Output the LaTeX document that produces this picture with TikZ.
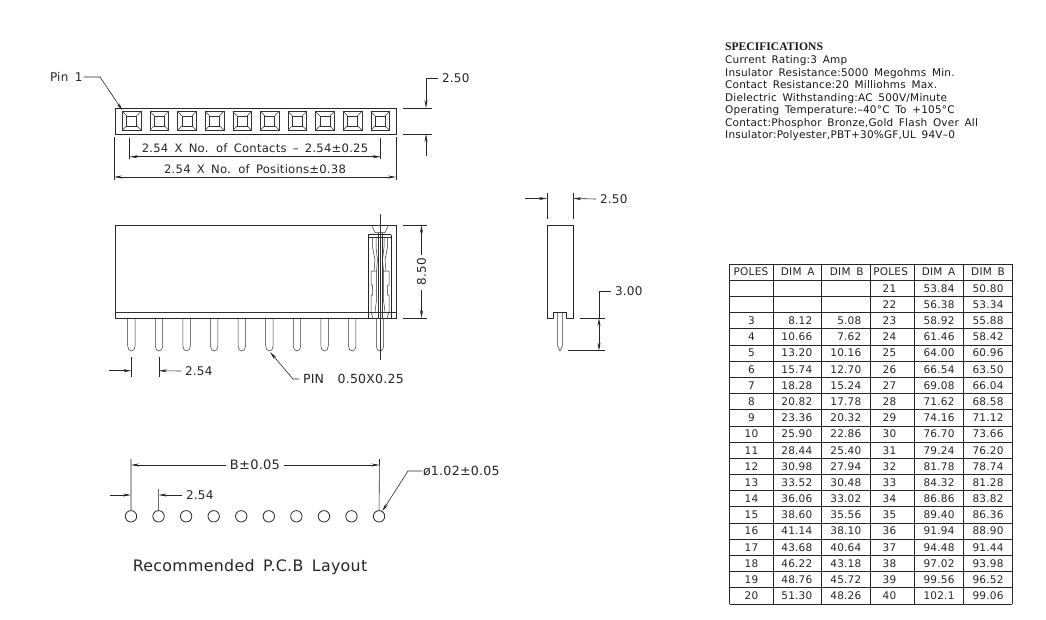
\documentclass[tikz,border=0pt]{standalone}
\usepackage{fontspec}
\setmainfont[LetterSpace=2,WordSpace=1.6]{DejaVu Sans}
\newfontfamily\headfont{Liberation Serif}
\usetikzlibrary{arrows.meta}

\tikzset{
  part/.style={line width=0.8pt,black!85},
  thin part/.style={line width=0.5pt,black!80},
  dim/.style={line width=0.6pt,black!85},
  dimarrow/.style={dim,-{Stealth[length=8pt,width=3pt]}},
  dimarrows/.style={dim,{Stealth[length=8pt,width=3pt]}-{Stealth[length=8pt,width=3pt]}},
  dimtext/.style={font=\fontsize{12}{14}\selectfont,text=black!85,inner sep=0pt,outer sep=4pt,anchor=west},
  small dimtext/.style={font=\fontsize{11.6}{13}\selectfont,text=black!85,inner sep=0pt},
  spec/.style={font=\fontsize{10.5}{12}\selectfont,text=black!90,inner sep=0pt,anchor=base west},
  cell/.style={font=\fontsize{10.5}{11}\selectfont,text=black!85,inner sep=0pt}
}

\begin{document}
\begin{tikzpicture}[x=1pt,y=-1pt]
  \useasboundingbox (0,0) rectangle (1046,619);
  \fill[white] (0,0) rectangle (1046,619);

  % top view
  \draw[part] (115,108) rectangle (396,134);
  \foreach \i in {0,...,9} {
    \begin{scope}[shift={(131.7+27.6*\i,120.8)}]
      \draw[thin part] (-9.3,-9.3) rectangle (9.3,9.3);
      \draw[thin part] (-5,-5) rectangle (5,5);
      \draw[thin part] (-9.3,-9.3) -- (-5,-5) (9.3,-9.3) -- (5,-5)
        (-9.3,9.3) -- (-5,5) (9.3,9.3) -- (5,5);
    \end{scope}
  }
  \node[dimtext,outer sep=1pt] (pinone) at (49,77) {Pin\ 1};
  \coordinate (pinonetip) at (122.5,110.5);
  \draw[dimarrow] (pinone.east) -- (100,77) -- (pinonetip);

  \draw[dim] (129.7,138) -- (129.7,159) (380.7,138) -- (380.7,159);
  \draw[dimarrows] (129.7,156.7) -- (380.7,156.7);
  \node[small dimtext] (contacts) at (255,148.5) {2.54 X No. of Contacts – 2.54±0.25};
  \draw[dim] (114,137) -- (114,180) (396,137) -- (396,180);
  \draw[dimarrows] (114,177) -- (396,177);
  \node[small dimtext] (positions) at (255,169.5) {2.54 X No. of Positions±0.38};

  \draw[dim] (403,108) -- (432,108) (403,134) -- (432,134);
  \node[dimtext] (widtha) at (438,78) {2.50};
  \draw[dimarrow] (widtha.west) -- (426,78) -- (426,108);
  \draw[dimarrow] (426,156) -- (426,134);

  % front view
  \draw[part] (115,225) rectangle (396,318);
  \draw[thin part,dash pattern=on 1.5pt off 0.5pt] (115,312.5) -- (396,312.5);
  \foreach \i in {0,...,8} {
    \draw[thin part,shift={(131.4+27.6*\i,0)}] (-3.7,318) -- (-3.7,346)
      .. controls (-3.7,349) and (-2,351) .. (0,351)
      .. controls (2,351) and (3.7,349) .. (3.7,346) -- (3.7,318);
  }
  \begin{scope}[shift={(380,0)}]
    \draw[thin part] (-3.7,318) -- (-3.7,346)
      .. controls (-3.7,349) and (-2,351) .. (0,351)
      .. controls (2,351) and (3.7,349) .. (3.7,346) -- (3.7,318);
    \draw[thin part] (-1.8,233) -- (-1.8,318) (1.8,233) -- (1.8,318);
    \draw[thin part] (0,214) -- (0,360);
    \draw[part] (-11.7,234.5) -- (-11.7,318) (11,234.5) -- (11,318) (-11.7,234.5) -- (11,234.5);
    \draw[thin part] (-8,226) -- (-5,232.5) -- (5,232.5) -- (8,226);
    \draw[thin part] (-11.7,237) -- (11,237);
    % contact springs
    \foreach \s in {-1,1} {
      \begin{scope}[xscale=\s]
        \draw[thin part] (7.5,237) -- (7.5,247) -- (5,260) -- (6,271);
        \draw[thin part] (4,237) -- (4,247) -- (2.5,260) -- (3.5,271) -- (3.5,300) -- (5,312);
        \draw[thin part] (9,271) -- (3.5,271) (9,271) -- (9,285) -- (7.5,285)
          -- (7.5,295) -- (9,295) -- (9,312) -- (7,318);
      \end{scope}
    }
  \end{scope}

  \draw[dim] (403,225) -- (427,225) (403,318) -- (427,318);
  \node[dimtext,rotate=90,anchor=center] (heighta) at (421.5,272) {8.50};
  \draw[dimarrow] (421.5,255) -- (421.5,225);
  \draw[dimarrow] (421.5,290) -- (421.5,318);

  \draw[dim] (131.3,357) -- (131.3,377) (159,357) -- (159,377);
  \draw[dimarrow] (109,370.7) -- (131.3,370.7);
  \node[dimtext] (pitcha) at (181,371) {2.54};
  \draw[dimarrow] (pitcha.west) -- (159,370.7);

  \node[dimtext,font=\fontsize{12.5}{14}\selectfont] (pinsize) at (299,379) {PIN\ \ 0.50X0.25};
  \coordinate (pintip) at (270,352);
  \draw[dimarrow] (pinsize.west) -- (293,379) -- (pintip);

  % side view
  \draw[part] (547,225) -- (573.3,225) -- (573.3,318) -- (566.7,318) -- (566.7,312.3)
    -- (553.3,312.3) -- (553.3,318) -- (547,318) -- cycle;
  \draw[thin part] (557.7,312.3) -- (557.7,346) -- (560,351) -- (562.3,346) -- (562.3,312.3);

  \draw[dim] (547,193) -- (547,219) (573.3,193) -- (573.3,219);
  \draw[dimarrow] (525,198.5) -- (547,198.5);
  \node[dimtext] (widthb) at (596,199) {2.50};
  \draw[dimarrow] (widthb.west) -- (573.3,198.5);

  \draw[dim] (580,318) -- (605,318) (567.7,350.7) -- (605,350.7);
  \node[dimtext] (pinlen) at (611,291) {3.00};
  \draw[dim] (pinlen.west) -- (599,291) -- (599,318);
  \draw[dimarrows] (599,318) -- (599,350.7);

  % pcb layout
  \foreach \i in {0,...,9} {
    \node[draw,circle,part,minimum size=11.4pt,inner sep=0pt] (hole\i) at (131+27.56*\i,516.3) {};
  }
  \draw[dim] (hole0.north) -- (131,459) (hole9.north) -- (379.5,459) (hole1.north) -- (158.6,489);
  \node[dimtext,anchor=center,font=\fontsize{13}{15}\selectfont] (spacing) at (255,465) {B±0.05};
  \draw[dimarrow] (spacing.west) -- (131,465);
  \draw[dimarrow] (spacing.east) -- (379.5,465);
  \draw[dimarrow] (110,495) -- (131,495);
  \node[dimtext] (pitchb) at (182,495) {2.54};
  \draw[dimarrow] (pitchb.west) -- (158.6,495);
  \node[dimtext,font=\fontsize{12.6}{14}\selectfont,outer sep=1pt] (drill) at (422,471) {ø1.02±0.05};
  \draw[dimarrow] (drill.west) -- (408,471) -- (hole9);
  \node[dimtext,font=\fontsize{15.8}{17}\selectfont,anchor=center] (layout) at (250,567) {Recommended P.C.B Layout};

  % specifications
  \node[spec,font=\fontsize{11.6}{13}\headfont\bfseries] (spectitle) at (725,50.5) {SPECIFICATIONS};
  \foreach \y/\t [count=\n] in {63.5/{Current Rating:3 Amp},
    76.2/{Insulator Resistance:5000 Megohms Min.},
    88.7/{Contact Resistance:20 Milliohms Max.},
    101.2/{Dielectric Withstanding:AC 500V/Minute},
    113.7/{Operating Temperature:–40°C To +105°C},
    126.2/{Contact:Phosphor Bronze,Gold Flash Over All},
    138.7/{Insulator:Polyester,PBT+30\%GF,UL 94V–0}} {
    \node[spec] (spec\n) at (725,\y) {\t};
  }

  % table
  \foreach \x in {729.7,773.3,821.7,870.7,914.3,963.3,1012.3} {
    \draw[part] (\x,264) -- (\x,604);
  }
  \foreach \r in {0,...,21} {
    \draw[part] (729.7,264+16.19*\r) -- (1012.3,264+16.19*\r);
  }
  \foreach \x/\t [count=\n] in {751/POLES,797.7/DIM\ A,846.7/DIM\ B,890.7/POLES,938.5/DIM\ A,988/DIM\ B} {
    \node[cell] (head\n) at (\x,272.1) {\t};
  }
  \foreach \ra/\ab/\ac/\rb/\bb/\bc [count=\n from 1] in {
    /  /  /21/53.84/50.80,
    /  /  /22/56.38/53.34,
    3/8.12/5.08/23/58.92/55.88,
    4/10.66/7.62/24/61.46/58.42,
    5/13.20/10.16/25/64.00/60.96,
    6/15.74/12.70/26/66.54/63.50,
    7/18.28/15.24/27/69.08/66.04,
    8/20.82/17.78/28/71.62/68.58,
    9/23.36/20.32/29/74.16/71.12,
    10/25.90/22.86/30/76.70/73.66,
    11/28.44/25.40/31/79.24/76.20,
    12/30.98/27.94/32/81.78/78.74,
    13/33.52/30.48/33/84.32/81.28,
    14/36.06/33.02/34/86.86/83.82,
    15/38.60/35.56/35/89.40/86.36,
    16/41.14/38.10/36/91.94/88.90,
    17/43.68/40.64/37/94.48/91.44,
    18/46.22/43.18/38/97.02/93.98,
    19/48.76/45.72/39/99.56/96.52,
    20/51.30/48.26/40/102.1/99.06} {
    \pgfmathsetmacro{\ycell}{272.1+16.19*\n}
    \node[cell] (polesa\n) at (751.5,\ycell) {\ra};
    \node[cell,anchor=east] (dimaa\n) at (812.5,\ycell) {\ab};
    \node[cell,anchor=east] (dimba\n) at (861.5,\ycell) {\ac};
    \node[cell] (polesb\n) at (889.5,\ycell) {\rb};
    \node[cell] (dimab\n) at (939,\ycell) {\bb};
    \node[cell] (dimbb\n) at (988,\ycell) {\bc};
  }
\end{tikzpicture}
\end{document}
